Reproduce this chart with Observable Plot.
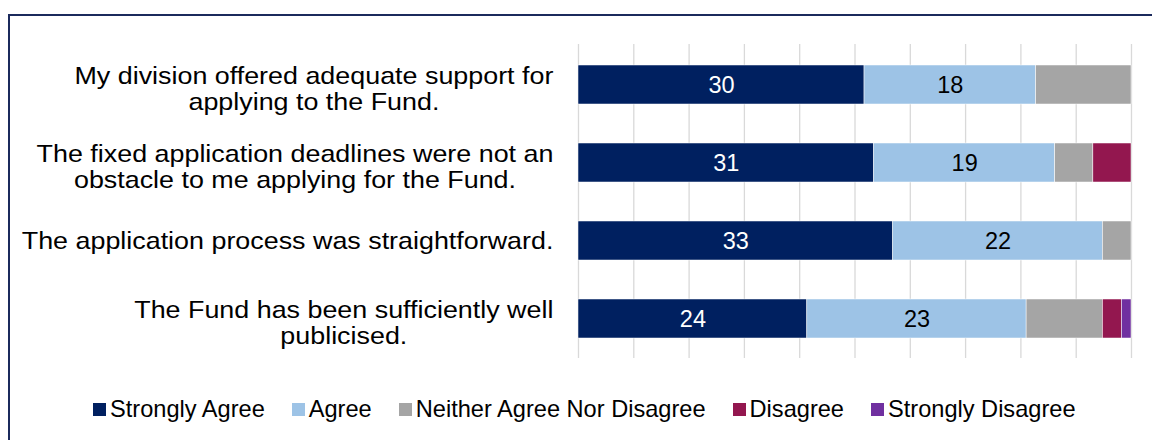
<!DOCTYPE html>
<html><head><meta charset="utf-8">
<script src="https://cdn.jsdelivr.net/npm/d3@7"></script>
<script src="https://cdn.jsdelivr.net/npm/@observablehq/plot@0.6"></script>
<style>
body{margin:0;background:#fff;font-family:"Liberation Sans",Arial,sans-serif;}
#wrap{position:relative;width:1152px;height:440px;overflow:hidden;background:#fff;}
#frame{position:absolute;left:8px;top:14px;width:1300px;height:600px;border-left:2px solid #1b2a5c;border-top:2px solid #1b2a5c;}
#chart{position:absolute;left:0;top:0;}
#legend{position:absolute;left:93px;top:396px;display:flex;align-items:center;font-size:23.6px;color:#000;white-space:nowrap;}
.item{display:flex;align-items:center;margin-right:27px;}
.sw{width:13px;height:13px;margin-right:4px;}
</style>
</head><body>
<div id="wrap"><div id="frame"></div><div id="chart"></div><div id="legend"></div></div>
<script>
const questions = [
  "My division offered adequate support for\napplying to the Fund.",
  "The fixed application deadlines were not an\nobstacle to me applying for the Fund.",
  "The application process was straightforward.",
  "The Fund has been sufficiently well\npublicised."
];
const categories = ["Strongly Agree", "Agree", "Neither Agree Nor Disagree", "Disagree", "Strongly Disagree"];
const stronglyAgree = [30, 31, 33, 24];
const agree = [18, 19, 22, 23];
const neither = [10, 4, 3, 8];
const disagree = [0, 4, 0, 2];
const stronglyDisagree = [0, 0, 0, 1];
const colors = ["#002060", "#9dc3e6", "#a5a5a5", "#93174f", "#7030a0"];

const series = [stronglyAgree, agree, neither, disagree, stronglyDisagree];
const data = [];
questions.forEach((q, i) => {
  categories.forEach((c, j) => data.push({question: q, category: c, value: series[j][i]}));
});

const stackOpts = {x: "value", y: "question", z: "category", offset: "normalize"};

const chart = Plot.plot({
  width: 1152,
  height: 380,
  marginLeft: 578,
  marginRight: 21,
  marginTop: 44,
  marginBottom: 22,
  style: {fontFamily: "'Liberation Sans', Arial, sans-serif", fontSize: "23px", background: "transparent"},
  x: {domain: [0, 1], axis: null},
  y: {domain: questions, paddingInner: 0.5, paddingOuter: 0.25, axis: null},
  color: {domain: categories, range: colors},
  marks: [
    Plot.gridX({ticks: 10, stroke: "#d9d9d9", strokeOpacity: 1, strokeWidth: 1.3}),
    Plot.barX(data, Plot.stackX({...stackOpts, fill: "category", stroke: "white", strokeWidth: 0.5})),
    Plot.text(data, Plot.stackX({...stackOpts, text: d => d.category === "Strongly Agree" ? String(d.value) : "", fill: "white", fontSize: 23.5})),
    Plot.text(data, Plot.stackX({...stackOpts, text: d => d.category === "Agree" ? String(d.value) : "", fill: "black", fontSize: 23.5})),
    Plot.axisY({tickSize: 0, tickPadding: 25, fontSize: 24, lineHeight: 1.08, fill: "black", label: null})
  ]
});
document.getElementById("chart").appendChild(chart);

// center-align multi-line category labels within their right-aligned block (slightly widened as in the reference)
const sx = 1.12;
chart.querySelectorAll('g[aria-label="y-axis tick label"] text').forEach(t => {
  const w = t.getBBox().width;
  const multi = t.querySelectorAll("tspan").length > 1;
  t.setAttribute("text-anchor", "middle");
  const tr = t.getAttribute("transform") || "";
  t.setAttribute("transform", tr + ` translate(${-w * sx / 2},${multi ? 4 : 0}) scale(${sx},1)`);
});

const legend = d3.select("#legend");
categories.forEach((c, i) => {
  const it = legend.append("div").attr("class", "item");
  it.append("div").attr("class", "sw").style("background", colors[i]);
  it.append("span").text(c);
});
</script>
</body></html>
